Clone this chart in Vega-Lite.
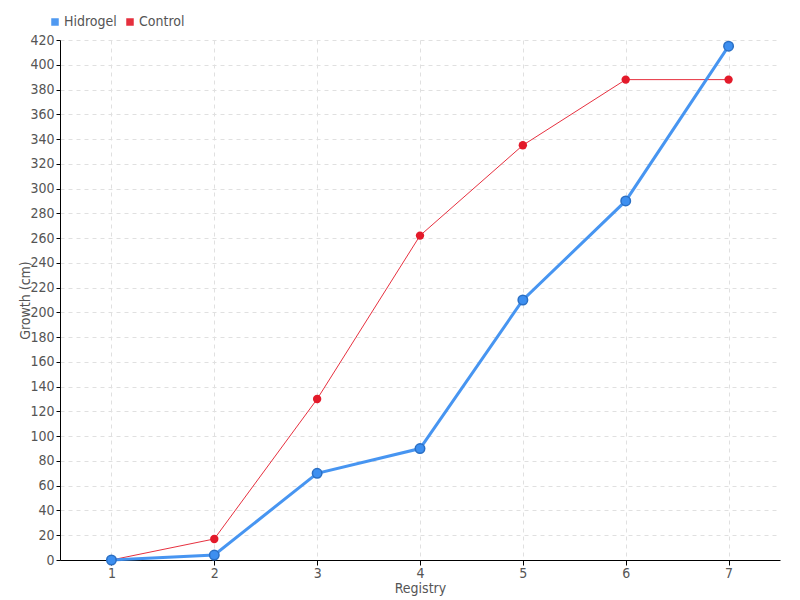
{
  "$schema": "https://vega.github.io/schema/vega-lite/v6.json",
  "width": 720,
  "height": 520,
  "autosize": {"type": "none"},
  "padding": {"left": 60, "top": 40, "right": 20, "bottom": 40},
  "background": "white",
  "config": {
    "font": "DejaVu Sans Condensed",
    "view": {"stroke": null},
    "axis": {
      "labelFont": "DejaVu Sans Condensed",
      "titleFont": "DejaVu Sans Condensed",
      "labelColor": "#555",
      "titleColor": "#555",
      "labelFontSize": 14,
      "titleFontSize": 14,
      "titleFontWeight": "normal",
      "domainColor": "#000",
      "tickColor": "#000",
      "gridColor": "#e0e0e0",
      "gridDash": [4, 4],
      "labelOverlap": false
    },
    "legend": {"labelFont": "DejaVu Sans Condensed", "labelFontSize": 14, "labelColor": "#555"}
  },
  "data": {
    "values": [
      {"registry": 1, "series": "Hidrogel", "growth": 0},
      {"registry": 2, "series": "Hidrogel", "growth": 4},
      {"registry": 3, "series": "Hidrogel", "growth": 70},
      {"registry": 4, "series": "Hidrogel", "growth": 90},
      {"registry": 5, "series": "Hidrogel", "growth": 210},
      {"registry": 6, "series": "Hidrogel", "growth": 290},
      {"registry": 7, "series": "Hidrogel", "growth": 415},
      {"registry": 1, "series": "Control", "growth": 0},
      {"registry": 2, "series": "Control", "growth": 17},
      {"registry": 3, "series": "Control", "growth": 130},
      {"registry": 4, "series": "Control", "growth": 262},
      {"registry": 5, "series": "Control", "growth": 335},
      {"registry": 6, "series": "Control", "growth": 388},
      {"registry": 7, "series": "Control", "growth": 388}
    ]
  },
  "encoding": {
    "x": {
      "field": "registry",
      "type": "quantitative",
      "scale": {"domain": [0.5, 7.5], "nice": false, "zero": false},
      "axis": {"title": "Registry", "values": [1, 2, 3, 4, 5, 6, 7], "format": "d", "titlePadding": 1, "labelPadding": 1, "tickSize": 5}
    },
    "y": {
      "field": "growth",
      "type": "quantitative",
      "scale": {"domain": [0, 420], "nice": false},
      "axis": {"title": "Growth (cm)", "values": [0,20,40,60,80,100,120,140,160,180,200,220,240,260,280,300,320,340,360,380,400,420], "labelPadding": 2, "titlePadding": -3, "tickSize": 4}
    },
    "color": {
      "field": "series",
      "type": "nominal",
      "scale": {"domain": ["Hidrogel", "Control"], "range": ["#3d8ff0", "#e31a2a"]},
      "legend": {
        "title": null,
        "orient": "none",
        "direction": "horizontal",
        "legendX": -12,
        "legendY": -25,
        "symbolType": "square",
        "symbolSize": 36,
        "symbolOffset": 0,
        "labelOffset": 2,
        "columnPadding": 6
      }
    }
  },
  "layer": [
    {
      "transform": [{"filter": "datum.series === 'Control'"}],
      "mark": {"type": "line", "strokeWidth": 1, "opacity": 0.9}
    },
    {
      "transform": [{"filter": "datum.series === 'Hidrogel'"}],
      "mark": {"type": "line", "strokeWidth": 3, "opacity": 0.95}
    },
    {
      "transform": [{"filter": "datum.series === 'Control'"}],
      "mark": {"type": "point", "filled": true, "size": 70, "opacity": 1}
    },
    {
      "transform": [{"filter": "datum.series === 'Hidrogel'"}],
      "mark": {"type": "point", "filled": true, "size": 90, "opacity": 1, "stroke": "#2a6fc4", "strokeWidth": 1.5}
    }
  ]
}
